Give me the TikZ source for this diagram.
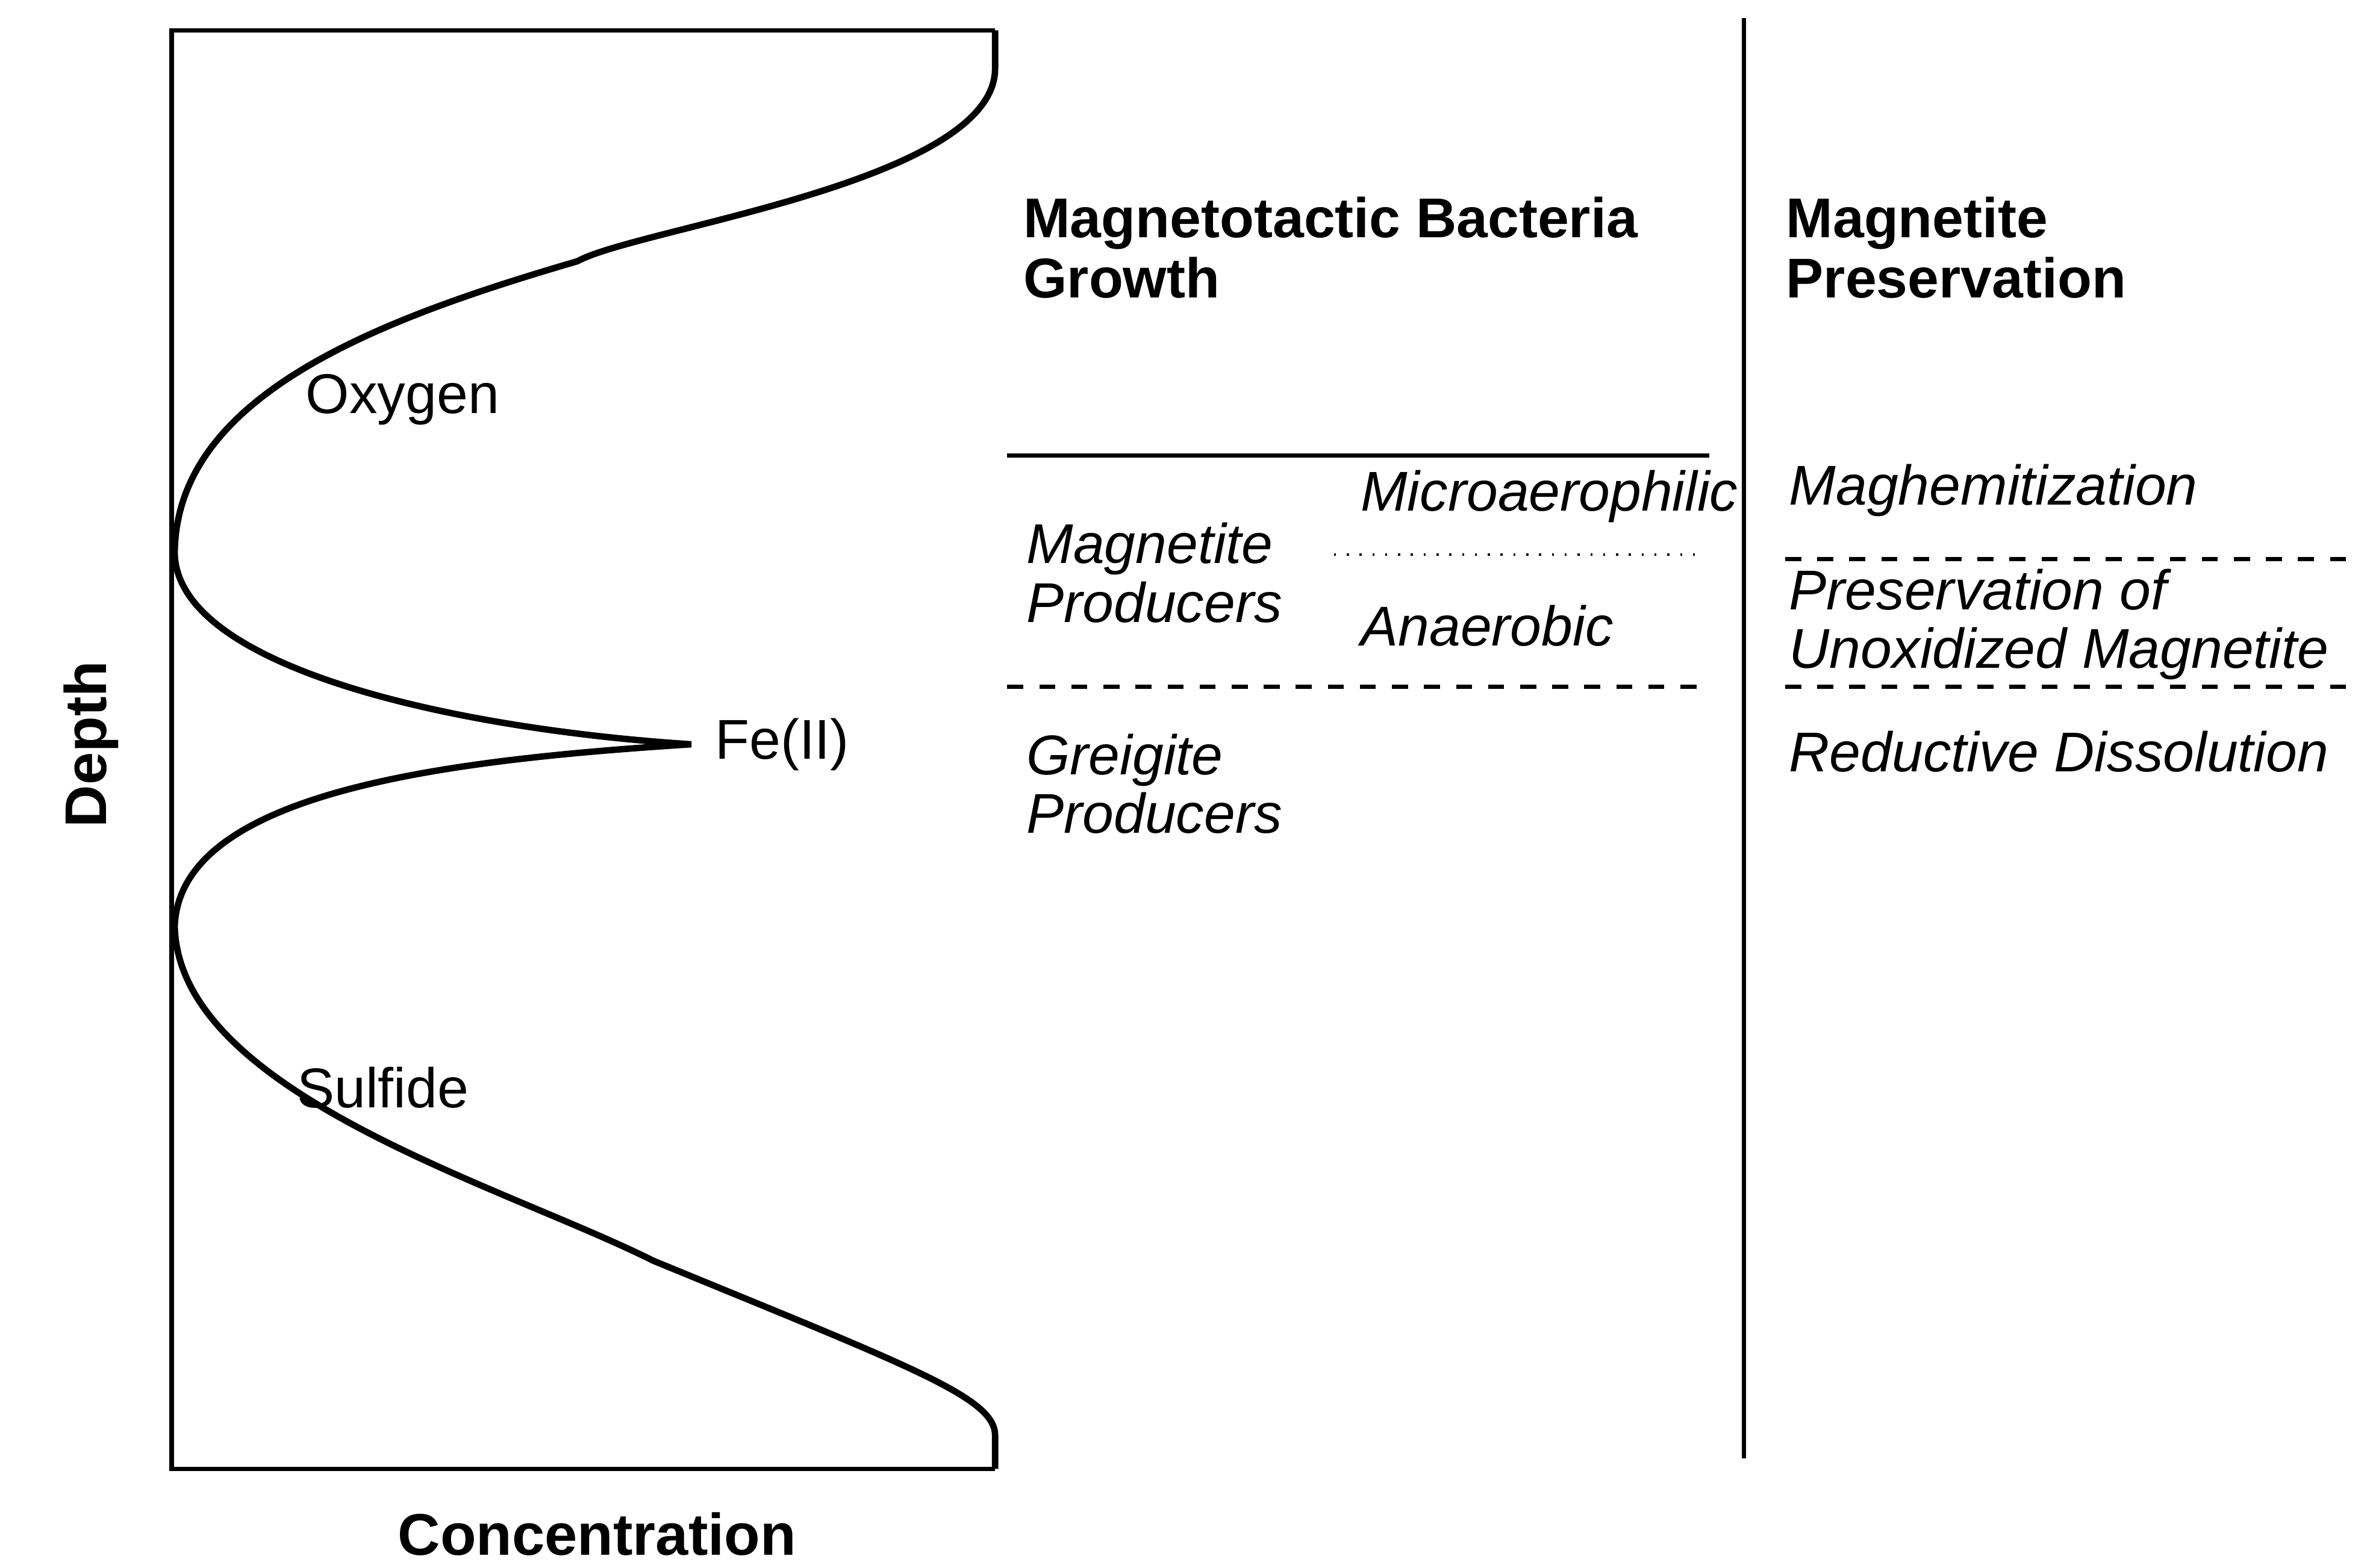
\documentclass[tikz,border=0pt]{standalone}
\usepackage{fontspec}
\setmainfont{Liberation Sans}
\begin{document}
\begin{tikzpicture}[x=0.01cm,y=-0.01cm,
  lbl/.style={font=\fontsize{10.5}{12}\selectfont, inner sep=0pt},
  zone/.style={font=\fontsize{10.5}{11}\selectfont\itshape, inner sep=0pt, anchor=west, align=left},
  head/.style={font=\fontsize{10.5}{11.2}\selectfont\bfseries, inner sep=0pt, anchor=west, align=left}]
      \useasboundingbox (0,0) rectangle (1560,1032);
      %points
      \coordinate (TL) at (113,20); \coordinate (TR) at (655,20);
      \coordinate (BL) at (113,967); \coordinate (BR) at (655,967);
      \coordinate (O) at (115,365); \coordinate (F) at (455,490); \coordinate (S) at (115,610);
      %axes
      \draw[thick] (TR)--(TL)--(BL)--(BR);
      %profiles
      \draw[very thick] (TR)--(655,45) .. controls (655,120) and (420,150) .. (380,172)
        .. controls (250,210) and (115,260) .. (O)
        .. controls (118,440) and (300,480) .. (F)
        .. controls (300,500) and (118,520) .. (S)
        .. controls (118,720) and (330,780) .. (430,830)
        .. controls (600,900) and (655,920) .. (655,945)--(BR);
      \node[lbl] (oxy) at (265,263) {Oxygen};
      \node[lbl, anchor=west] (fe) at (470,490) {Fe(II)};
      \node[lbl] (sulf) at (252,716) {Sulfide};
      \node[lbl, font=\fontsize{11}{12}\selectfont\bfseries, rotate=90] (depth) at (60,490) {Depth};
      \node[lbl, font=\fontsize{11}{12}\selectfont\bfseries] (conc) at (393,1010) {Concentration};
      %columns
      \coordinate (V1) at (1148,12); \coordinate (V2) at (1148,960);
      \draw[thick] (V1)--(V2);
      \node[head] (mtb) at (673,163) {Magnetotactic Bacteria\\Growth};
      \node[head] (mp) at (1175,163) {Magnetite\\Preservation};
      %zones
      \draw[thick] (663,300)--(1125,300);
      \draw[dotted] (878,365)--(1122,365);
      \draw[dashed, thick] (663,452)--(1122,452);
      \draw[dashed, thick] (1175,368)--(1545,368);
      \draw[dashed, thick] (1175,452)--(1545,452);
      \node[zone] (micro) at (895,327) {Microaerophilic};
      \node[zone] (anaer) at (895,412) {Anaerobic};
      \node[zone] (magp) at (675,377) {Magnetite\\Producers};
      \node[zone] (greig) at (675,516) {Greigite\\Producers};
      \node[zone] (maghem) at (1177,323) {Maghemitization};
      \node[zone] (pres) at (1177,411) {Preservation of\\Unoxidized Magnetite};
      \node[zone] (redis) at (1177,495) {Reductive Dissolution};
\end{tikzpicture}
\end{document}
